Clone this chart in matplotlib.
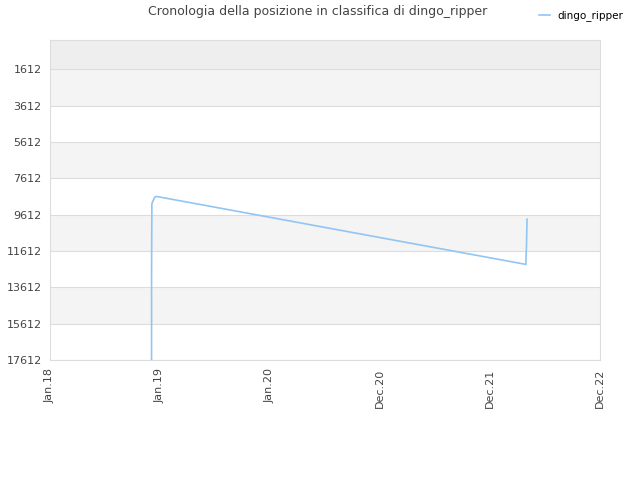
import numpy as np
import pandas as pd
import matplotlib
matplotlib.use('Agg')
import matplotlib.pyplot as plt
import matplotlib.dates as mdates

# dati
dates = pd.to_datetime([
    '2018-12-04', '2018-12-04', '2018-12-05', '2018-12-06', '2018-12-13',
    '2018-12-15', '2018-12-21', '2022-04-29', '2022-04-30', '2022-05-01',
    '2022-05-03',
])
positions = [17612, 13000, 9035, 8960, 8700, 8640, 8612, 12350, 11800, 11344, 9859]

y_ticks = [1612, 3612, 5612, 7612, 9612, 11612, 13612, 15612, 17612]
x_ticks = pd.to_datetime(['2018-01-01', '2019-01-01', '2020-01-01',
                          '2020-12-31', '2021-12-31', '2022-12-31'])
x_labels = ['Jan.18', 'Jan.19', 'Jan.20', 'Dec.20', 'Dec.21', 'Dec.22']

plt.rcParams['font.family'] = ['DejaVu Sans']
fig = plt.figure(figsize=(6.4, 4.8), dpi=100)
ax = fig.add_axes([50 / 640, 1 - 360 / 480, 550 / 640, 320 / 480])

# fasce di sfondo
ax.axhspan(0, 1612, color='#eeeeee', zorder=0, lw=0)
for i in range(0, len(y_ticks) - 1, 2):
    ax.axhspan(y_ticks[i], y_ticks[i + 1], color='#f4f4f4', zorder=0, lw=0)
for t in y_ticks:
    ax.axhline(t, color='#dddddd', lw=0.8, zorder=1)

ax.plot(dates, positions, color='#92c5f3', lw=1.2, label='dingo_ripper', zorder=3)

ax.set_ylim(17612, 0)
ax.set_xlim(x_ticks[0], x_ticks[-1])
ax.set_yticks(y_ticks)
ax.set_yticklabels([str(t) for t in y_ticks])
ax.set_xticks(x_ticks)
ax.set_xticklabels(x_labels, rotation=90)
ax.tick_params(axis='both', length=0, labelsize=8, labelcolor='#444444', pad=6)

for s in ax.spines.values():
    s.set_color('#dddddd')
    s.set_linewidth(0.8)

fig.text(318 / 640, 1 - 12 / 480, 'Cronologia della posizione in classifica di dingo_ripper',
         ha='center', va='center', fontsize=9, color='#444444')
fig.legend(loc='center left', bbox_to_anchor=(535 / 640, 1 - 16 / 480), frameon=False,
           fontsize=7.5, handlelength=1.0, handletextpad=0.7, borderaxespad=0)

fig.savefig('out.png', dpi=100)
